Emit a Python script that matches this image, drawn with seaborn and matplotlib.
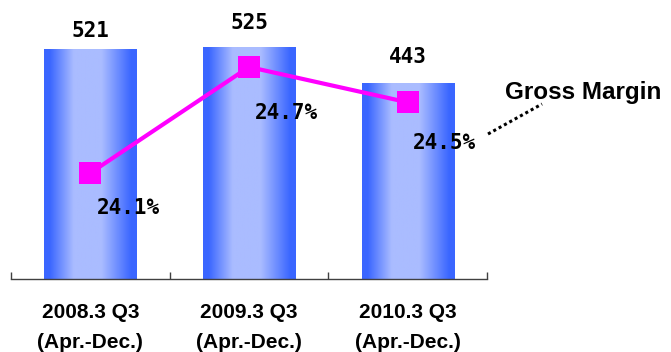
import numpy as np
import pandas as pd
import matplotlib
matplotlib.use("Agg")
import matplotlib.pyplot as plt
import seaborn as sns
from matplotlib.colors import LinearSegmentedColormap
from matplotlib.lines import Line2D

# data
periods = ["2008.3 Q3\n(Apr.-Dec.)", "2009.3 Q3\n(Apr.-Dec.)", "2010.3 Q3\n(Apr.-Dec.)"]
sales = [521, 525, 443]
gross_margin = [24.1, 24.7, 24.5]

# label offsets in pixels (layout only)
sales_offsets = [18, 24, 26]
margin_offsets = [(38, -35), (37, -46), (37, -41)]

df = pd.DataFrame({"period": periods, "sales": sales, "margin": gross_margin})

sns.set_style("white")
plt.rcParams["text.color"] = "black"
plt.rcParams["xtick.color"] = "black"
plt.rcParams["xtick.labelcolor"] = "black"

W, H = 671, 352
fig = plt.figure(figsize=(W / 100, H / 100), dpi=100)
ax = fig.add_axes([11 / W, 73 / H, 476 / W, 265 / H])

sns.barplot(data=df, x="period", y="sales", ax=ax, width=0.58, color="#3366ff", saturation=1)

# horizontal cylinder-like gradient inside each bar
dark = "#3a66ff"
light = "#aabcff"
cmap = LinearSegmentedColormap.from_list(
    "cyl", [(0.0, dark), (0.06, dark), (0.32, light), (0.62, light), (0.94, dark), (1.0, dark)])
grad = np.linspace(0, 1, 256).reshape(1, -1)
for p in ax.patches:
    x0, y0 = p.get_x(), p.get_y()
    w, h = p.get_width(), p.get_height()
    im = ax.imshow(grad, cmap=cmap, extent=[x0, x0 + w, y0, y0 + h], aspect="auto", zorder=2)
    im.set_clip_path(p)
    p.set_facecolor("none")
    p.set_edgecolor("none")

ax.set_xlim(-0.5, 2.5)
ax.set_ylim(0, 600)

for i, v in enumerate(sales):
    ax.annotate(str(v), (i, v), xytext=(0, sales_offsets[i]), textcoords="offset pixels",
                ha="center", va="center", fontsize=15, fontweight="bold",
                family="DejaVu Sans Mono", zorder=5)

ax2 = ax.twinx()
sns.lineplot(x=np.arange(len(gross_margin)), y=gross_margin, ax=ax2, color="#ff00ff",
             marker="s", markersize=16, markeredgewidth=0, linewidth=3)
ax2.set_ylim(23.5, 25.0)
ax2.set_xlim(-0.5, 2.5)
for i, v in enumerate(gross_margin):
    ax2.annotate(f"{v:.1f}%", (i, v), xytext=margin_offsets[i], textcoords="offset pixels",
                 ha="center", va="center", fontsize=15, fontweight="bold",
                 family="DejaVu Sans Mono")

for a in (ax, ax2):
    for s in ("top", "left", "right"):
        a.spines[s].set_visible(False)
ax2.spines["bottom"].set_visible(False)
ax.spines["bottom"].set_color("#404040")
ax.spines["bottom"].set_linewidth(1)
ax.set_yticks([])
ax2.set_yticks([])
ax.set_xlabel("")
ax.set_ylabel("")
ax2.set_ylabel("")

ax.set_xticks([0, 1, 2])
ax.set_xticklabels(periods, fontsize=15, fontweight="bold", family="Liberation Sans", linespacing=1.75)
ax.tick_params(axis="x", which="major", bottom=True, length=0, pad=17)
ax.set_xticks([-0.5, 0.5, 1.5, 2.5], minor=True)
ax.tick_params(axis="x", which="minor", bottom=True, direction="in", length=5, width=1, color="#404040")

fig.text(583 / W, 1 - 93 / H, "Gross Margin", ha="center", va="center",
         fontsize=17.5, fontweight="bold", family="Liberation Sans")
fig.add_artist(Line2D([488 / W, 542 / W], [1 - 134 / H, 1 - 104 / H], transform=fig.transFigure,
                      color="black", linewidth=2.2, linestyle=(0, (1, 1)), dash_capstyle="butt"))

fig.savefig("out.png", dpi=100)
